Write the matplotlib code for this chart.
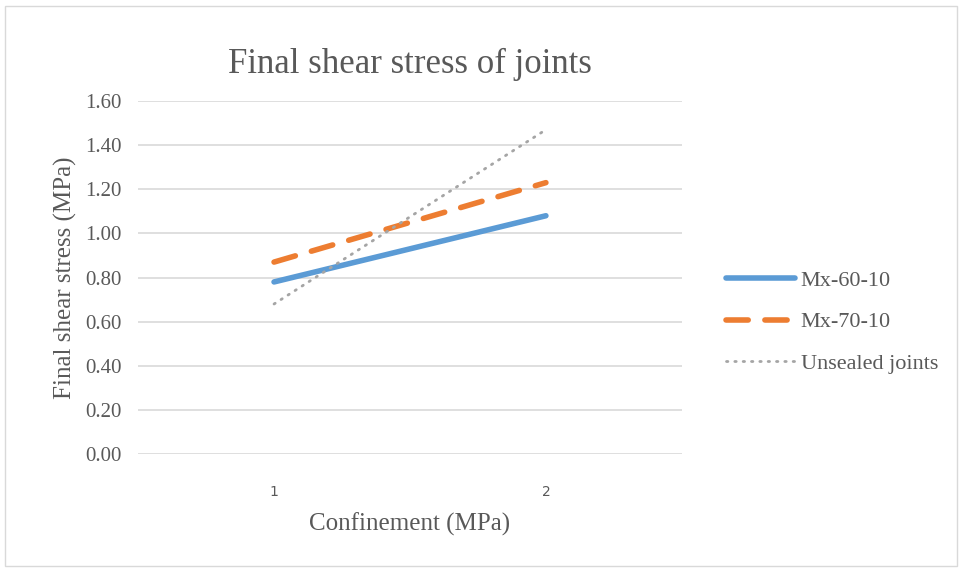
import matplotlib.pyplot as plt
from matplotlib.patches import Rectangle

# Final shear stress by confinement level
confinement = ['1', '2']
mx_60_10 = [0.78, 1.08]
mx_70_10 = [0.87, 1.23]
unsealed = [0.68, 1.47]
yticks = [0.0, 0.2, 0.4, 0.6, 0.8, 1.0, 1.2, 1.4, 1.6]

plt.rcParams['font.family'] = ['Liberation Serif', 'DejaVu Serif']
text_col = '#595959'

fig = plt.figure(figsize=(9.59, 5.69), dpi=100)
ax = fig.add_axes([0.144, 0.202, 0.567, 0.6205])

x = [0, 1]
ax.plot(x, mx_60_10, color='#5B9BD5', lw=4, solid_capstyle='round', label='Mx-60-10')
ax.plot(x, mx_70_10, color='#ED7D31', lw=4, dashes=(4, 3), dash_capstyle='round', label='Mx-70-10')
ax.plot(x, unsealed, color='#A5A5A5', lw=2, dashes=(0.5, 2.5), dash_capstyle='round', label='Unsealed joints')

ax.set_xlim(-0.5, 1.5)
ax.set_ylim(0, 1.6)
ax.set_xticks(x)
ax.set_xticklabels(confinement, fontfamily='DejaVu Sans', fontsize=10, color=text_col)
ax.set_yticks(yticks)
ax.set_yticklabels(['%.2f' % v for v in yticks], fontsize=15, color=text_col)
ax.tick_params(length=0)
ax.tick_params(axis='x', pad=22)
ax.tick_params(axis='y', pad=12)
ax.grid(axis='y', color='#D9D9D9', lw=1.2)
ax.set_axisbelow(True)
for s in ax.spines.values():
    s.set_visible(False)

ax.set_title('Final shear stress of joints', fontsize=25, color=text_col, pad=20)
ax.set_xlabel('Confinement (MPa)', fontsize=18, color=text_col, labelpad=10)
ax.set_ylabel('Final shear stress (MPa)', fontsize=18, color=text_col, labelpad=6)

leg = ax.legend(loc='center left', bbox_to_anchor=(1.045, 0.374), frameon=False,
                fontsize=16, handlelength=3.1, labelspacing=0.95, handletextpad=0.25)
for t in leg.get_texts():
    t.set_color(text_col)

# outer chart border
fig.patches.append(Rectangle((5 / 959, 3 / 569), 952 / 959, 560 / 569, transform=fig.transFigure,
                             fill=False, edgecolor='#D9D9D9', lw=1))

fig.savefig('out.png', dpi=100)
